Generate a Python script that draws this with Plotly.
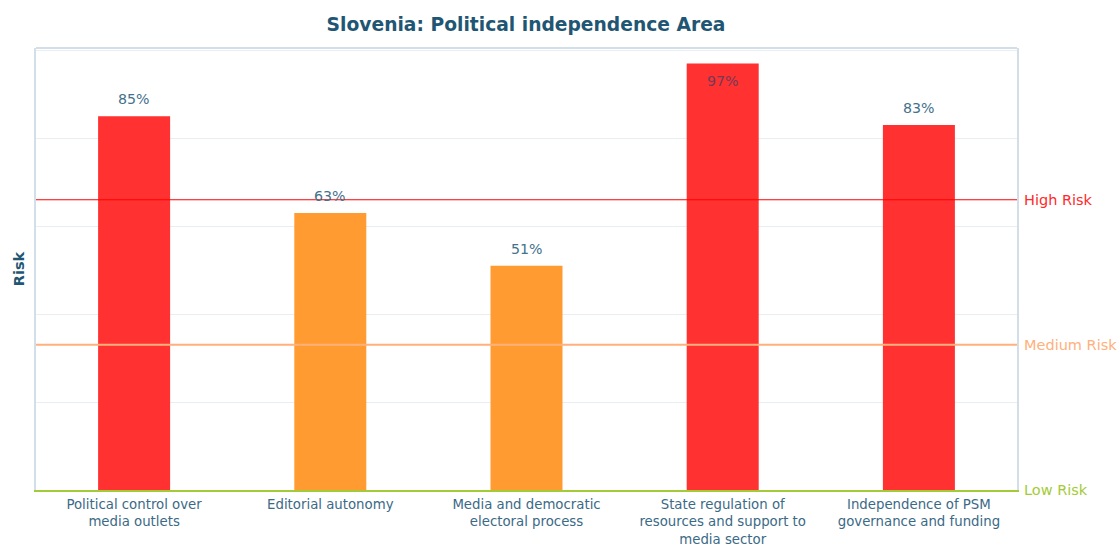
import plotly.graph_objects as go

categories = [
    "Political control over<br>media outlets",
    "Editorial autonomy",
    "Media and democratic<br>electoral process",
    "State regulation of<br>resources and support to<br>media sector",
    "Independence of PSM<br>governance and funding",
]
values = [85, 63, 51, 97, 83]
bar_colors = ["#ff3131", "#ff9b31", "#ff9b31", "#ff3131", "#ff3131"]
label_inside = [False, False, False, True, False]
thresholds = {"High Risk": 66, "Medium Risk": 33, "Low Risk": 0}
threshold_colors = {"High Risk": "#ff2a2a", "Medium Risk": "#ffb07c", "Low Risk": "#a3cb38"}
line_colors = {"High Risk": "#ff0000", "Medium Risk": "#ffb07c", "Low Risk": "#a3cb38"}
line_widths = {"High Risk": 1.2, "Medium Risk": 2, "Low Risk": 2}

FONT = "DejaVu Sans"
TEAL = "#3b6a86"
BORDER = "#d3dfe8"

fig = go.Figure()
fig.add_trace(go.Bar(
    x=categories, y=values, marker=dict(color=bar_colors, line=dict(width=0)),
    hoverinfo="skip", showlegend=False,
))

annotations = []
for c, v, ins in zip(categories, values, label_inside):
    annotations.append(dict(
        x=c, y=v, xref="x", yref="y", text=f"{v}%", showarrow=False,
        yshift=-18 if ins else 17, yanchor="middle",
        font=dict(family=FONT, size=14.2, color="#743a58" if ins else "#44718c"),
    ))

shapes = [dict(type="line", xref="paper", x0=0, x1=1, yref="paper", y0=1, y1=1,
               line=dict(color=BORDER, width=2), layer="above")]
for name, val in thresholds.items():
    if val > 0:
        shapes.append(dict(
            type="line", xref="paper", x0=0, x1=1, yref="y", y0=val, y1=val,
            line=dict(color=line_colors[name], width=line_widths[name]), layer="above",
        ))
    annotations.append(dict(
        xref="paper", x=1, xanchor="left", xshift=5, yref="y", y=val,
        text=name, showarrow=False, yanchor="middle",
        font=dict(family=FONT, size=14.5, color=threshold_colors[name]),
    ))

fig.update_layout(
    width=1118, height=547,
    margin=dict(l=36, r=101, t=48, b=57, autoexpand=False),
    paper_bgcolor="white", plot_bgcolor="white",
    font=dict(family=FONT, size=14.3, color=TEAL),
    title=dict(text="<b>Slovenia: Political independence Area</b>", x=0.4705, xanchor="center",
               y=0.955, yanchor="middle", font=dict(family=FONT, size=18.7, color="#1f5673")),
    bargap=0.633,
    shapes=shapes, annotations=annotations,
    xaxis=dict(showline=True, linecolor=line_colors["Low Risk"], linewidth=2, mirror=False,
               automargin=False, ticklabelstandoff=1,
               showgrid=False, ticks="", tickfont=dict(family=FONT, size=13.3, color=TEAL)),
    yaxis=dict(range=[0, 100.5], showline=True, mirror=True, linecolor=BORDER, linewidth=2,
               automargin=False,
               showgrid=True, gridcolor="#e9eef2", gridwidth=1, dtick=20, showticklabels=False,
               zeroline=False, ticks="",
               title=dict(text="<b>Risk</b>", standoff=6, font=dict(family=FONT, size=14.5, color="#1f5673"))),
)

fig.write_html("out.html", config={"displayModeBar": False},
               post_script="document.body.style.margin='0';document.body.style.overflow='hidden';")
